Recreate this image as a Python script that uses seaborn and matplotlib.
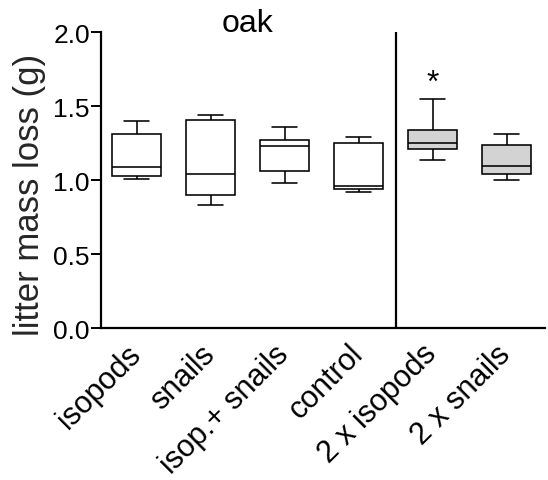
import numpy as np
import pandas as pd
import matplotlib
matplotlib.use("Agg")
import matplotlib.pyplot as plt
import matplotlib.transforms as mtransforms
import seaborn as sns

# ---- data (whisker low, Q1, median, Q3, whisker high) ----
groups = ["isopods", "snails", "isop.+ snails", "control", "2 x isopods", "2 x snails"]
whisker_low = [1.01, 0.83, 0.98, 0.92, 1.14, 1.00]
q1          = [1.03, 0.90, 1.06, 0.94, 1.21, 1.04]
median      = [1.09, 1.04, 1.23, 0.96, 1.25, 1.10]
q3          = [1.31, 1.41, 1.27, 1.25, 1.34, 1.24]
whisker_high= [1.40, 1.44, 1.36, 1.29, 1.55, 1.31]
fill_colors = ["white", "white", "white", "white", "#d3d3d3", "#d3d3d3"]
y_ticks = [0.0, 0.5, 1.0, 1.5, 2.0]
title_text = "oak"
ylabel_text = "litter mass loss (g)"
star_group = "2 x isopods"
star_value = 1.66

rows = []
for g, lo, a, m, b, hi in zip(groups, whisker_low, q1, median, q3, whisker_high):
    for v in (lo, a, m, b, hi):
        rows.append({"group": g, "value": v})
df = pd.DataFrame(rows)

sns.set_theme(style="ticks")
plt.rcParams["font.family"] = ["Liberation Sans", "DejaVu Sans"]

fig = plt.figure(figsize=(5.48, 4.81), dpi=100)
ax = fig.add_axes([101 / 548, 1 - 329.3 / 481, (545 - 101) / 548, (329.3 - 33.3) / 481])

sns.boxplot(data=df, x="group", y="value", hue="group", order=groups, hue_order=groups,
            palette=dict(zip(groups, fill_colors)), legend=False, whis=(0, 100),
            width=0.66, linecolor="black", linewidth=1.15, ax=ax)

ax.axvline(3.5, color="black", lw=1.6)
ax.text(groups.index(star_group), star_value, "*", ha="center", va="center",
        fontsize=23, color="black")

trans = mtransforms.blended_transform_factory(ax.transData, ax.transAxes)
ax.text(1.5, 1.005, title_text, transform=trans, ha="center", va="baseline",
        fontsize=23, color="black")

ax.set_xlim(-0.48, 5.52)
ax.set_ylim(0, 2.0)
ax.set_yticks(y_ticks)
ax.set_yticklabels([f"{t:.1f}" for t in y_ticks], fontsize=19)
ax.set_xlabel("")
ax.set_ylabel(ylabel_text, fontsize=25)
ax.yaxis.set_label_coords(-0.124, 0.455)
ax.tick_params(axis="y", length=7, width=1.4, color="black", pad=1, labelcolor="black")
ax.tick_params(axis="x", length=0, pad=15, labelcolor="black")
for lab in ax.get_xticklabels():
    lab.set_rotation(45)
    lab.set_ha("right")
    lab.set_va("center")
    lab.set_rotation_mode("anchor")
    lab.set_fontsize(22)

sns.despine(ax=ax)
for s in ("left", "bottom"):
    ax.spines[s].set_linewidth(1.6)
    ax.spines[s].set_color("black")

fig.savefig("out.png", dpi=100)
